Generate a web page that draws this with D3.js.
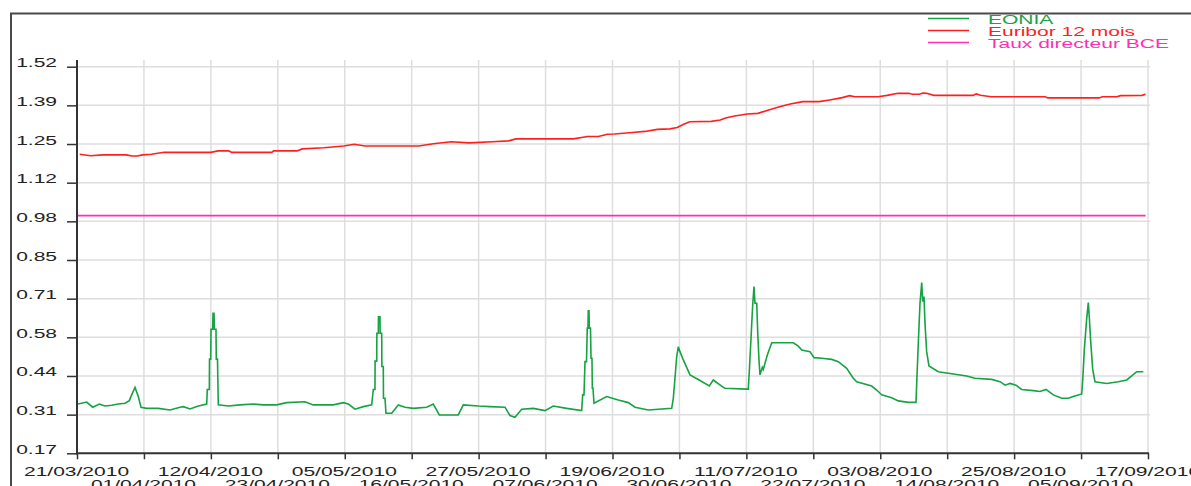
<!DOCTYPE html>
<html>
<head>
<meta charset="utf-8">
<script src="https://cdn.jsdelivr.net/npm/d3@7"></script>
<style>
  body { margin: 0; background: #fff; }
  svg text { font-family: "Liberation Sans", Arial, sans-serif; }
</style>
</head>
<body>
<div id="chart"></div>
<script>
// period shown : 21/03/2010 -> 17/09/2010, positions are day offsets from the start
const startDate = new Date(Date.UTC(2010, 2, 21));
const endDate = new Date(Date.UTC(2010, 8, 17));

const xTickLabels = ["21/03/2010","01/04/2010","12/04/2010","23/04/2010","05/05/2010","16/05/2010",
  "27/05/2010","07/06/2010","19/06/2010","30/06/2010","11/07/2010","22/07/2010","03/08/2010",
  "14/08/2010","25/08/2010","05/09/2010","17/09/2010"];
const yTicks = [0.17, 0.305, 0.44, 0.575, 0.71, 0.845, 0.98, 1.115, 1.25, 1.385, 1.52];
const yTickLabels = ["0.17","0.31","0.44","0.58","0.71","0.85","0.98","1.12","1.25","1.39","1.52"];

const seriesNames = ["EONIA", "Euribor 12 mois", "Taux directeur BCE"];
const seriesColors = ["#17a244", "#ff1f1f", "#ff2fb4"];

// [day offset, rate %]
const eonia = [
  [0.17,0.342],[1.63,0.349],[2.64,0.331],[3.75,0.342],[4.71,0.335],[5.83,0.338],[6.94,0.342],
  [8.07,0.345],[8.79,0.354],[9.19,0.374],[9.75,0.40],[10.3,0.368],[10.76,0.331],[11.71,0.327],
  [13.66,0.327],[15.63,0.321],[17.31,0.331],[17.87,0.333],[18.99,0.325],[20.39,0.335],[21.8,0.342],
  [21.9,0.393],[22.24,0.393],[22.27,0.499],[22.47,0.499],[22.52,0.603],[22.8,0.603],[22.86,0.659],
  [23.03,0.659],[23.08,0.603],[23.36,0.603],[23.41,0.499],[23.61,0.499],[23.75,0.339],
  [25.43,0.335],[27.39,0.339],[29.63,0.342],[31.31,0.339],[33.56,0.339],[35.24,0.347],[38.32,0.350],
  [39.71,0.339],[43.08,0.339],[44.76,0.347],[45.6,0.342],[46.72,0.324],[48.12,0.333],[49.53,0.339],
  [49.8,0.393],[50.08,0.393],[50.1,0.492],[50.37,0.492],[50.4,0.589],[50.64,0.589],[50.67,0.647],
  [50.92,0.647],[50.95,0.589],[51.21,0.589],[51.24,0.473],[51.48,0.473],[51.51,0.362],[51.76,0.362],
  [51.93,0.31],[52.89,0.31],[54.0,0.339],[55.13,0.331],[56.52,0.327],[58.77,0.331],[59.88,0.342],
  [60.89,0.304],[64.08,0.304],[64.92,0.339],[67.45,0.335],[69.41,0.333],[71.93,0.331],[72.77,0.302],
  [73.61,0.296],[74.74,0.324],[76.69,0.327],[78.66,0.319],[80.05,0.335],[82.3,0.327],[84.82,0.319],
  [84.99,0.374],[85.21,0.374],[85.38,0.49],[85.63,0.49],[85.76,0.607],[85.88,0.607],[85.93,0.668],
  [86.05,0.668],[86.1,0.607],[86.3,0.607],[86.39,0.502],[86.55,0.502],[86.61,0.397],[86.72,0.397],
  [86.89,0.345],[89.03,0.368],[90.97,0.356],[92.66,0.347],[93.78,0.331],[96.02,0.321],[99.95,0.327],
  [100.22,0.362],[100.5,0.432],[100.79,0.507],[101.06,0.542],[101.34,0.525],[101.9,0.496],
  [103.03,0.444],[104.71,0.424],[106.27,0.405],[106.94,0.426],[108.62,0.40],[108.91,0.397],
  [112.55,0.394],[112.82,0.394],[112.99,0.455],[113.28,0.572],[113.56,0.688],[113.78,0.752],
  [113.95,0.694],[114.24,0.694],[114.4,0.595],[114.62,0.496],[114.79,0.444],[115.18,0.47],
  [115.34,0.463],[116.02,0.513],[116.76,0.556],[120.39,0.556],[121.23,0.544],[121.8,0.531],
  [123.19,0.525],[123.87,0.504],[125.16,0.502],[126.84,0.498],[127.95,0.49],[129.36,0.467],
  [130.47,0.432],[131.04,0.42],[133.56,0.405],[134.4,0.391],[135.24,0.374],[136.92,0.364],
  [138.03,0.353],[139.71,0.348],[141.01,0.348],[141.13,0.415],[141.39,0.552],[141.68,0.694],
  [141.97,0.766],[142.13,0.70],[142.35,0.717],[142.52,0.624],[142.8,0.525],[143.19,0.475],
  [144.76,0.455],[147.28,0.447],[149.53,0.44],[150.92,0.432],[153.73,0.428],[155.13,0.42],
  [155.97,0.408],[156.81,0.414],[157.82,0.408],[158.77,0.393],[160.72,0.389],[161.85,0.386],
  [162.86,0.393],[164.08,0.374],[165.5,0.362],[166.61,0.362],[167.45,0.368],[168.86,0.377],
  [169.03,0.426],[169.3,0.533],[169.7,0.641],[169.97,0.696],[170.13,0.647],[170.37,0.56],
  [170.71,0.463],[171.09,0.42],[173.06,0.414],[175.0,0.42],[176.42,0.426],[177.26,0.44],
  [178.1,0.455],[179.21,0.455]
];

const euribor = [
  [0.45,1.214],[2.27,1.209],[4.37,1.212],[8.3,1.212],[9.21,1.208],[10.12,1.208],[11.03,1.212],
  [12.52,1.214],[14.62,1.221],[22.49,1.221],[23.7,1.226],[25.5,1.226],[25.98,1.221],[32.74,1.221],
  [33.04,1.226],[36.96,1.226],[37.87,1.233],[41.48,1.237],[44.81,1.243],[46.6,1.249],[48.42,1.243],
  [57.46,1.243],[59.88,1.251],[62.89,1.258],[65.92,1.254],[69.83,1.258],[72.55,1.261],[73.75,1.268],
  [83.41,1.268],[85.82,1.276],[87.63,1.276],[89.14,1.284],[90.32,1.285],[93.33,1.290],[95.45,1.294],
  [97.55,1.301],[99.66,1.303],[100.87,1.308],[102.07,1.32],[102.97,1.328],[106.61,1.329],
  [108.1,1.334],[109.01,1.341],[110.52,1.348],[112.64,1.355],[114.44,1.357],[116.25,1.369],
  [118.07,1.38],[119.87,1.39],[121.98,1.398],[124.71,1.398],[126.5,1.404],[128.62,1.412],
  [129.83,1.419],[130.72,1.415],[134.66,1.415],[136.15,1.42],[137.97,1.427],[139.78,1.427],
  [140.39,1.424],[141.6,1.424],[142.18,1.428],[142.79,1.427],[144.0,1.42],[150.64,1.42],
  [151.13,1.425],[151.85,1.42],[153.65,1.415],[162.71,1.415],[163.19,1.411],[171.75,1.411],
  [172.35,1.415],[174.77,1.415],[175.38,1.419],[178.99,1.42],[179.6,1.424]
];

const tauxBCE = [[0, 1.00], [179.6, 1.00]];

const allSeries = [eonia, euribor, tauxBCE];

const width = 1191, height = 486;
const plotLeft = 77, plotRight = 1148, plotTop = 66.7, plotBottom = 453.3;
const stretch = 1.75; // the labels of the original are drawn very wide

function dayToDate(d) { return new Date(startDate.getTime() + d * 864e5); }

function widen(sel) {
  sel.each(function() {
    const w = this.getComputedTextLength();
    d3.select(this).attr("textLength", w * stretch).attr("lengthAdjust", "spacingAndGlyphs");
  });
}

const svg = d3.select("#chart").append("svg")
  .attr("width", width)
  .attr("height", height);

const x = d3.scaleUtc().domain([startDate, endDate]).range([plotLeft, plotRight]);
const y = d3.scaleLinear().domain([0.17, 1.52]).range([plotBottom, plotTop]);

const xTickValues = d3.range(xTickLabels.length).map(i => dayToDate(i * 180 / (xTickLabels.length - 1)));

// outer frame
svg.append("line").attr("x1", 10).attr("x2", width).attr("y1", 13.5).attr("y2", 13.5)
  .attr("stroke", "#4a4a4a").attr("stroke-width", 2);
svg.append("line").attr("x1", 11).attr("x2", 11).attr("y1", 13).attr("y2", height)
  .attr("stroke", "#4a4a4a").attr("stroke-width", 2);

// grid
const grid = svg.append("g").attr("stroke", "#dedede").attr("stroke-width", 1.5);
grid.selectAll(".gx").data(xTickValues.slice(1)).enter().append("line")
  .attr("x1", d => x(d)).attr("x2", d => x(d))
  .attr("y1", 60).attr("y2", plotBottom);
grid.selectAll(".gy").data(yTicks.slice(1)).enter().append("line")
  .attr("x1", plotLeft).attr("x2", plotRight + 2)
  .attr("y1", d => y(d)).attr("y2", d => y(d));

// series
const line = d3.line()
  .x(d => x(dayToDate(d[0])))
  .y(d => y(d[1]));

svg.append("g").selectAll("path")
  .data([tauxBCE, euribor, eonia])
  .enter().append("path")
    .attr("fill", "none")
    .attr("stroke", d => seriesColors[allSeries.indexOf(d)])
    .attr("stroke-width", 1.6)
    .attr("d", line);

// y axis
const yAxis = svg.append("g")
  .attr("transform", "translate(" + plotLeft + ",0)")
  .call(d3.axisLeft(y).tickValues(yTicks).tickFormat((d, i) => yTickLabels[i]).tickSize(10).tickPadding(10));
yAxis.select(".domain").remove();
yAxis.selectAll(".tick line").attr("stroke", "#333").attr("stroke-width", 1.5);
yAxis.selectAll(".tick text")
  .attr("dy", 0)
  .attr("fill", "#222")
  .style("font-size", "12px")
  .call(widen);
svg.append("line").attr("x1", plotLeft).attr("x2", plotLeft).attr("y1", 60).attr("y2", plotBottom + 1)
  .attr("stroke", "#333").attr("stroke-width", 2);

// x axis
const xAxis = svg.append("g")
  .attr("transform", "translate(0," + plotBottom + ")")
  .call(d3.axisBottom(x).tickValues(xTickValues).tickFormat((d, i) => xTickLabels[i]).tickSize(6));
xAxis.select(".domain").remove();
xAxis.selectAll(".tick line").attr("stroke", "#333").attr("stroke-width", 1.5);
xAxis.selectAll(".tick text")
  .attr("dy", 0)
  .attr("x", -1)
  .attr("y", (d, i) => i % 2 === 0 ? 22.5 : 36)
  .attr("fill", "#222")
  .style("font-size", "12px")
  .call(widen);
svg.append("line").attr("x1", plotLeft - 1).attr("x2", plotRight + 1).attr("y1", plotBottom).attr("y2", plotBottom)
  .attr("stroke", "#333").attr("stroke-width", 2);

// legend
const legend = svg.append("g");
const legendRows = [18.5, 30.5, 42.5];
legend.selectAll("line").data(seriesNames).enter().append("line")
  .attr("x1", 928).attr("x2", 969)
  .attr("y1", (d, i) => legendRows[i]).attr("y2", (d, i) => legendRows[i])
  .attr("stroke", (d, i) => seriesColors[i])
  .attr("stroke-width", 1.5);
legend.selectAll("text").data(seriesNames).enter().append("text")
  .attr("x", 988)
  .attr("y", (d, i) => legendRows[i] + 5)
  .attr("fill", (d, i) => seriesColors[i])
  .style("font-size", "12px")
  .text(d => d)
  .call(widen);
</script>
</body>
</html>
